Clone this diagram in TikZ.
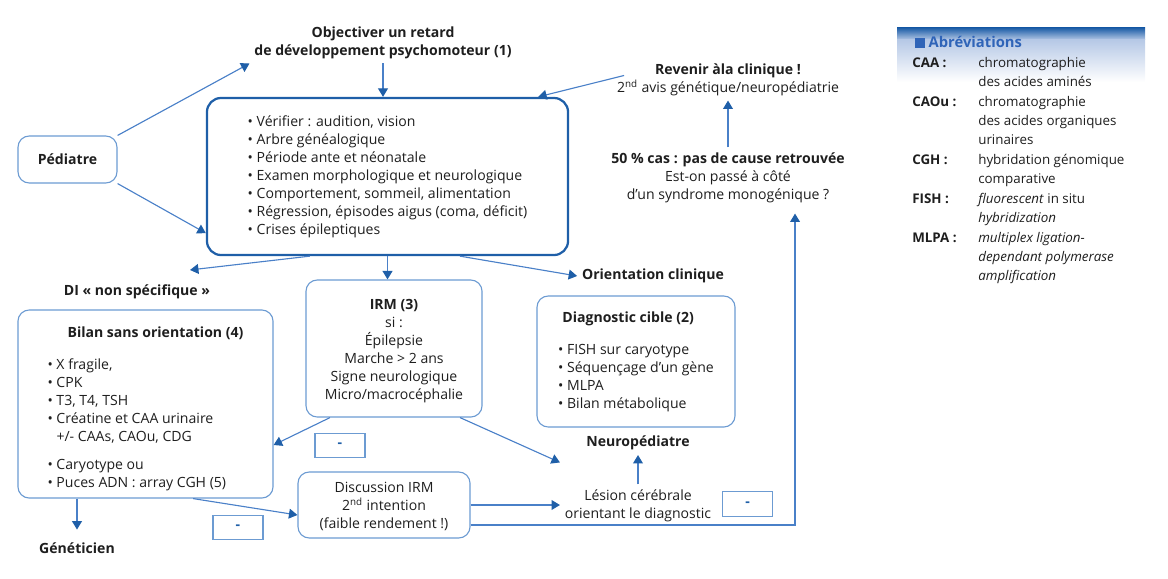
\documentclass[tikz,border=0pt]{standalone}
\usepackage{fontspec}
\setmainfont{Open Sans}
\usetikzlibrary{arrows.meta,calc,positioning}
\definecolor{mainblue}{HTML}{1F5FA8}
\definecolor{softblue}{HTML}{6C9BD2}
\definecolor{lineblue}{HTML}{4A80C8}
\definecolor{inkgrey}{HTML}{1E1E1E}
\definecolor{legendblue}{HTML}{2F64B8}
\newcommand{\basefont}{\fontsize{10}{12.8}\selectfont}
\newcommand{\legendfont}{\fontsize{9.5}{13.8}\selectfont}
\tikzset{%
  every node/.append style={font=\basefont,text=inkgrey},
  arrow/.style={draw=lineblue,line width=0.8pt,-{Triangle[width=7pt,length=6pt,color=mainblue]}},
  link/.style={draw=lineblue,line width=0.8pt},
  mainbox/.style={draw=mainblue,line width=1.6pt,rounded corners=10pt,align=left},
  softbox/.style={draw=softblue,line width=0.8pt,rounded corners=8pt},
  minusbox/.style={draw=softblue,line width=0.8pt,minimum width=1.25cm,minimum height=0.62cm,font=\basefont\bfseries,text=mainblue},
  heading/.style={font=\basefont\bfseries,align=center},
  plain/.style={align=center},
}

\begin{document}
\begin{tikzpicture}[x=0.025cm,y=-0.025cm]
  \useasboundingbox (0,0) rectangle (1168,578);

  % haut du schema
  \node[heading] (objectif) at (383,42.5) {Objectiver un retard\\de développement psychomoteur (1)};
  \node[mainbox,minimum width=9.025cm,minimum height=3.925cm] (clinique) at (387.5,176.5)
    {\textbullet~Vérifier : audition, vision\\
     \textbullet~Arbre généalogique\\
     \textbullet~Période ante et néonatale\\
     \textbullet~Examen morphologique et neurologique\\
     \textbullet~Comportement, sommeil, alimentation\\
     \textbullet~Régression, épisodes aigus (coma, déficit)\\
     \textbullet~Crises épileptiques};
  \node[softbox,font=\basefont\bfseries,minimum width=2.475cm,minimum height=1.175cm] (pediatre) at (67.5,159.5) {Pédiatre};
  \node[plain] (revenir) at (728,79.5) {{\bfseries Revenir àla clinique !}\\2\textsuperscript{nd} avis génétique/neuropédiatrie};
  \node[plain] (cas) at (728,177.5) {{\bfseries 50 \% cas : pas de cause retrouvée}\\Est-on passé à côté\\d’un syndrome monogénique ?};

  % orientations
  \node[heading] (nonspec) at (137,292) {DI « non spécifique »};
  \node[heading] (orientation) at (653,276) {Orientation clinique};
  \node[softbox,plain,minimum width=4.4cm,minimum height=3.425cm] (irm) at (394,348.5)
    {\rule{0pt}{11pt}{\bfseries IRM (3)}\\si :\\Épilepsie\\Marche > 2 ans\\Signe neurologique\\Micro/macrocéphalie};
  \node[softbox,align=left,minimum width=6.375cm,minimum height=4.7cm] (bilan) at (145.5,404)
    {\rule{0pt}{15pt}{\hspace*{0.5cm}\bfseries Bilan sans orientation (4)}\\[10pt]
     \textbullet~X fragile,\\
     \textbullet~CPK\\
     \textbullet~T3, T4, TSH\\
     \textbullet~Créatine et CAA urinaire\\
     \phantom{\textbullet}~+/- CAAs, CAOu, CDG\\[7pt]
     \textbullet~Caryotype ou\\
     \textbullet~Puces ADN : array CGH (5)};
  \node[softbox,align=left,minimum width=4.95cm,minimum height=3.275cm] (cible) at (636,361.5)
    {{\hspace*{3pt}\bfseries Diagnostic cible (2)}\\[10pt]
     \textbullet~FISH sur caryotype\\
     \textbullet~Séquençage d’un gène\\
     \textbullet~MLPA\\
     \textbullet~Bilan métabolique};

  % bas du schema
  \node[heading] (neuroped) at (638,443) {Neuropédiatre};
  \node[plain] (lesion) at (638,505.5) {Lésion cérébrale\\orientant le diagnostic};
  \node[softbox,plain,minimum width=4.3cm,minimum height=1.65cm] (discussion) at (384,505)
    {\rule{0pt}{10pt}Discussion IRM\\2\textsuperscript{nd} intention\\(faible rendement !)};
  \node[heading] (geneticien) at (77,548) {Généticien};
  \node[minusbox] (moinsirm) at (340,445.5) {-};
  \node[minusbox] (moinsbilan) at (238,527.5) {-};
  \node[minusbox] (moinslesion) at (747.5,504) {-};

  % fleches
  \draw[arrow] (pediatre.north east) -- (objectif.south west);
  \draw[arrow] (pediatre.south east) -- ([yshift=0.575cm]clinique.south west);
  \draw[arrow] (objectif.south) -- (objectif.south |- clinique.north);
  \draw[arrow] ([xshift=0.3cm,yshift=0.1cm]revenir.west) -- ([xshift=-0.775cm]clinique.north east);
  \draw[arrow] (cas.north) -- (revenir.south);
  \draw[arrow] ([xshift=-1.94cm]clinique.south) -- ([xshift=1.325cm,yshift=0.25cm]nonspec.north);
  \draw[arrow] (clinique.south) -- (clinique.south |- irm.north);
  \draw[arrow] ([xshift=1.81cm]clinique.south) -- (orientation.west);
  \draw[arrow] ([xshift=-1.6cm]irm.south) -- ([yshift=-1.025cm]bilan.east);
  \draw[arrow] ([xshift=1.65cm]irm.south) -- ([yshift=0.55cm]lesion.north west);
  \draw[arrow] (geneticien.north |- bilan.south) -- ([yshift=0.2cm]geneticien.north);
  \draw[arrow] ([xshift=1.19cm]bilan.south) -- ([yshift=-0.25cm]discussion.west);
  \draw[arrow] (discussion.east) -- (discussion.east -| lesion.west);
  \draw[arrow] (lesion.north) -- (neuroped.south);
  \draw[arrow] ([yshift=-0.5cm]discussion.east) -| ([xshift=1.675cm,yshift=-0.15cm]cas.south);

  % abreviations
  \shade[top color=mainblue,bottom color=legendblue!35!white] (897,28) rectangle (1145,40);
  \shade[top color=legendblue!35!white,bottom color=white] (897,40) rectangle (1145,82);
  \node[anchor=west,font=\fontsize{10.5}{12}\selectfont\bfseries,text=legendblue] (abrev) at (910,42)
    {\rule{7pt}{7pt}~Abréviations};
  \node[anchor=north west,inner sep=0pt,font=\legendfont] (glossaire) at (912,53.5)
    {\begin{tabular}{@{}p{1.65cm}@{}l@{}}
      \textbf{CAA :} & chromatographie\\
                     & des acides aminés\\
      \textbf{CAOu :} & chromatographie\\
                      & des acides organiques\\
                      & urinaires\\
      \textbf{CGH :} & hybridation génomique\\
                     & comparative\\
      \textbf{FISH :} & \textit{fluorescent} in situ\\
                      & \textit{hybridization}\\
      \textbf{MLPA :} & \textit{multiplex ligation-}\\
                      & \textit{dependant polymerase}\\
                      & \textit{amplification}
     \end{tabular}};
\end{tikzpicture}
\end{document}
